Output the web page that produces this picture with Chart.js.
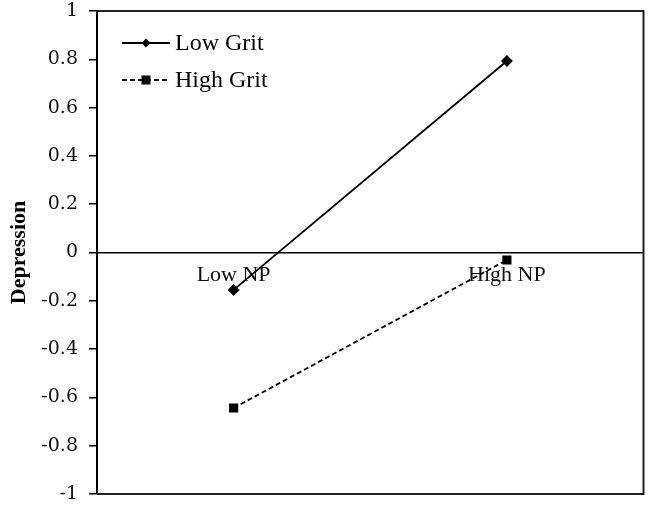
<!DOCTYPE html>
<html>
<head>
<meta charset="utf-8">
<script src="https://cdn.jsdelivr.net/npm/chart.js@4"></script>
<style>
html,body{margin:0;padding:0;background:#fff;}
#wrap{width:650px;height:505px;}
</style>
</head>
<body>
<div id="wrap"><canvas id="c" width="650" height="505"></canvas></div>
<script>
const categories = ["Low NP", "High NP"];
const lowGrit = [-0.155, 0.793];
const highGrit = [-0.644, -0.031];
const seriesNames = ["Low Grit", "High Grit"];
const yTicks = [-1, -0.8, -0.6, -0.4, -0.2, 0, 0.2, 0.4, 0.6, 0.8, 1];
const yTitle = "Depression";

const FONT = "'Liberation Serif', 'Times New Roman', serif";
const TICKFONT = "'DejaVu Serif', serif";

const framePlugin = {
  id: 'frame',
  afterDraw(chart) {
    const {ctx, chartArea: a} = chart;
    ctx.save();
    ctx.strokeStyle = '#222';
    ctx.lineWidth = 2;
    ctx.beginPath();
    ctx.moveTo(a.left, a.top);
    ctx.lineTo(a.right, a.top);
    ctx.lineTo(a.right, a.bottom);
    ctx.lineTo(a.left, a.bottom);
    ctx.stroke();
    ctx.restore();
  }
};

const legendPlugin = {
  id: 'lineLegend',
  afterDraw(chart) {
    const {ctx, chartArea: a} = chart;
    ctx.save();
    const x0 = a.left + 25, x1 = a.left + 73, xm = (x0 + x1) / 2;
    const ys = [a.top + 32, a.top + 69];
    chart.data.datasets.forEach((ds, i) => {
      const y = ys[i];
      ctx.strokeStyle = '#000';
      ctx.lineWidth = 1.8;
      ctx.setLineDash(ds.borderDash || []);
      ctx.beginPath();
      ctx.moveTo(x0, y); ctx.lineTo(x1, y); ctx.stroke();
      ctx.setLineDash([]);
      ctx.fillStyle = '#000';
      if (ds.pointStyle === 'rectRot') {
        const r = 4.5;
        ctx.beginPath();
        ctx.moveTo(xm, y - r); ctx.lineTo(xm + r, y); ctx.lineTo(xm, y + r); ctx.lineTo(xm - r, y); ctx.closePath(); ctx.fill();
      } else {
        const s = 9;
        ctx.fillRect(xm - s / 2, y - s / 2, s, s);
      }
      ctx.font = "24px " + FONT;
      ctx.textBaseline = 'middle';
      ctx.textAlign = 'left';
      ctx.fillText(ds.label, x1 + 5, y + 1);
    });
    ctx.restore();
  }
};

new Chart(document.getElementById('c'), {
  type: 'line',
  data: {
    labels: categories,
    datasets: [
      {
        label: seriesNames[0], data: lowGrit,
        borderColor: '#000', backgroundColor: '#000', borderWidth: 1.8,
        pointStyle: 'rectRot', pointRadius: 6, pointHoverRadius: 6,
        pointBackgroundColor: '#000', pointBorderColor: '#000', pointBorderWidth: 0,
        tension: 0
      },
      {
        label: seriesNames[1], data: highGrit,
        borderColor: '#000', backgroundColor: '#000', borderWidth: 1.8,
        borderDash: [5, 3],
        pointStyle: 'rect', pointRadius: 6.5, pointHoverRadius: 6.5,
        pointBackgroundColor: '#000', pointBorderColor: '#000', pointBorderWidth: 0,
        tension: 0
      }
    ]
  },
  options: {
    responsive: false,
    animation: false,
    devicePixelRatio: 1,
    layout: { padding: { left: 0, top: 11, right: 0, bottom: 11 } },
    plugins: { legend: { display: false }, tooltip: { enabled: false } },
    scales: {
      x: {
        type: 'category',
        offset: true,
        position: { y: 0 },
        afterFit(scale) { scale.paddingLeft = 0; scale.paddingRight = 0; },
        grid: { display: false, drawTicks: false },
        border: { display: true, color: '#000', width: 1.5 },
        ticks: { color: '#111', padding: 10, font: { family: FONT, size: 22 }, maxRotation: 0 }
      },
      y: {
        min: -1, max: 1,
        afterFit(scale) { scale.width = 97; scale.paddingTop = 0; scale.paddingBottom = 0; },
        afterBuildTicks(scale) { scale.ticks = yTicks.map(v => ({ value: v })); },
        grid: { drawOnChartArea: false, drawTicks: true, tickLength: 8, color: '#000', lineWidth: 1.5 },
        border: { display: true, color: '#000', width: 2 },
        ticks: {
          color: '#111', padding: 11,
          font: { family: TICKFONT, size: 19 },
          callback: v => String(Number(v.toFixed(1)))
        },
        title: { display: true, text: yTitle, color: '#000', padding: { top: 6, bottom: 0 },
          font: { family: FONT, size: 22, weight: 'bold' } }
      }
    }
  },
  plugins: [framePlugin, legendPlugin]
});
</script>
</body>
</html>
